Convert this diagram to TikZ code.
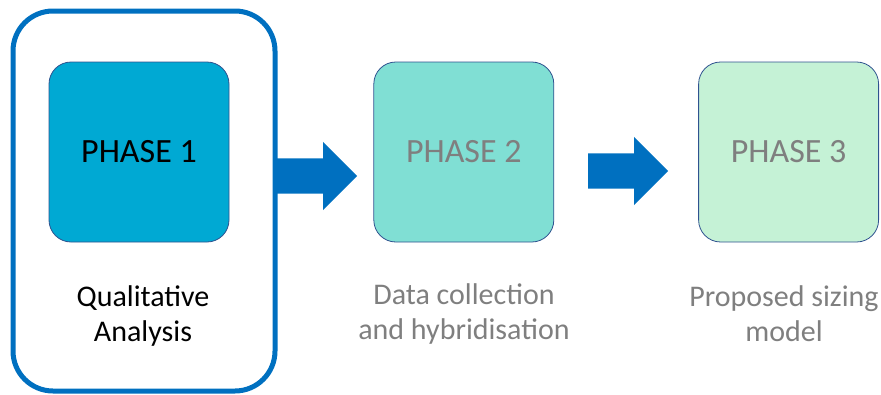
\documentclass[tikz,border=0pt]{standalone}
\usepackage{fontspec}
\setmainfont{Carlito}
\usepackage{tikz}
\usetikzlibrary {shapes.arrows}
\usetikzlibrary {positioning}

\definecolor{frameblue}{RGB}{0,112,192}
\definecolor{phaseone}{RGB}{0,169,211}
\definecolor{phasetwo}{RGB}{128,223,212}
\definecolor{phasethree}{RGB}{197,242,214}
\definecolor{edgeblue}{RGB}{47,82,143}
\definecolor{greytext}{RGB}{127,127,127}

\tikzset{
  phase/.style={rectangle, rounded corners=22pt, draw=edgeblue, line width=0.8pt,
    minimum width=180pt, minimum height=180pt, inner sep=0pt,
    font=\fontsize{34}{40}\selectfont},
  caption/.style={align=center, font=\fontsize{30}{35}\selectfont},
  bigarrow/.style={single arrow, fill=frameblue, inner sep=17.5pt,
    minimum height=80pt, minimum width=68pt, single arrow head extend=16.5pt}
}

\begin{document}
\begin{tikzpicture}[x=1pt,y=-1pt]
\useasboundingbox (0,0) rectangle (881,394);

%frame round phase 1
\node [rectangle, draw=frameblue, line width=5pt, rounded corners=40pt,
  minimum width=262pt, minimum height=380pt] (frame) at (144,201) {};

\node [phase, fill=phaseone] (p1) at (139,152) {PHASE 1};
\node [phase, fill=phasetwo, text=greytext, right=144pt of p1] (p2) {PHASE 2};
\node [phase, fill=phasethree, text=greytext, right=144pt of p2] (p3) {PHASE 3};

%arrows
\node [bigarrow, anchor=west] (a1) at (277,176) {};
\node [bigarrow, anchor=west] (a2) at (588,171) {};

%captions
\node [caption] (c1) at (143,316) {Qualitative\\Analysis};
\node [caption, text=greytext] (c2) at (464,314) {Data collection\\and hybridisation};
\node [caption, text=greytext] (c3) at (784,314) {Proposed sizing\\model};

\end{tikzpicture}
\end{document}
